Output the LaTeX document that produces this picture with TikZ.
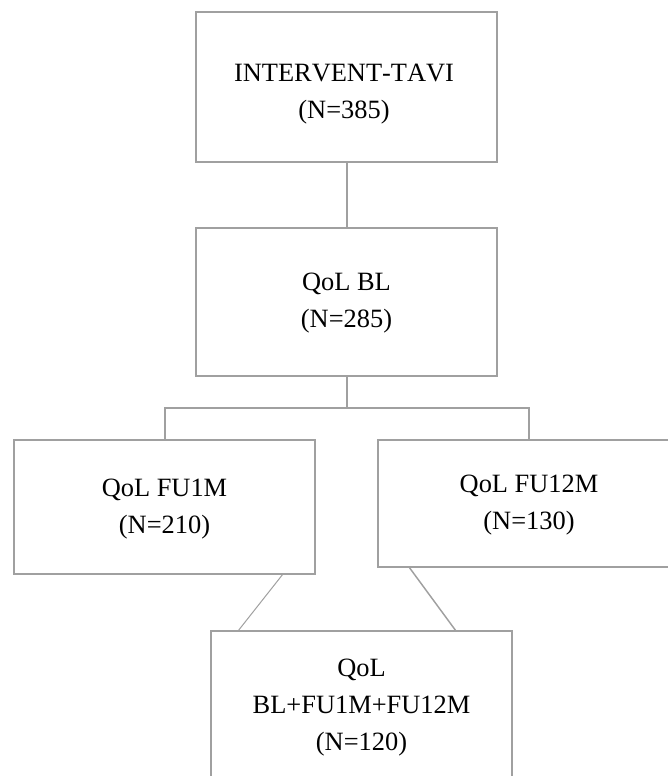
\documentclass[tikz,border=0pt]{standalone}
\usepackage{fontspec}
\setmainfont[Kerning=Off]{Liberation Serif}
\usetikzlibrary{positioning}
\definecolor{BoxGray}{HTML}{A0A0A0}

\begin{document}
\begin{tikzpicture}[x=0.75pt,y=-0.75pt,
      box/.style={draw=BoxGray,line width=1.5pt,minimum width=225.75pt,inner sep=0pt,outer sep=0pt},
      link/.style={BoxGray,line width=1.5pt},
      lbl/.style={align=center,anchor=north,inner sep=0pt,font=\fontsize{19.8pt}{27.75pt}\selectfont}]
    \clip (0,0) rectangle (668,776);
    % boxes
    \node[box,minimum height=112.5pt] (tavi)  at (346.5,87)  {};
    \node[box,minimum height=111pt]   (qolbl) at (346.5,302) {};
    \node[box,minimum height=100.5pt] (fu1m)  at (164.5,507) {};
    \node[box,minimum height=95.25pt,minimum width=226.5pt] (fu12m) at (529,503.5) {};
    \node[box,minimum height=112.5pt] (all)   at (361.5,706) {};
    % texts
    \node[lbl] (tavitxt)  at (344,64)    {INTERVENT-TAVI\\(N=385)};
    \node[lbl] (qolbltxt) at (346.5,273) {QoL BL\\(N=285)};
    \node[lbl] (fu1mtxt)  at (164.5,479) {QoL FU1M\\(N=210)};
    \node[lbl] (fu12mtxt) at (529,475)   {QoL FU12M\\(N=130)};
    \node[lbl] (alltxt)   at (361.5,659) {QoL\\BL+FU1M+FU12M\\(N=120)};
    % connectors
    \coordinate (split) at (346.5,408);
    \draw[link] (tavi) -- (qolbl);
    \draw[link] (qolbl.south) -- (split);
    \draw[link] (fu1m.north) |- (fu12m.north |- split) -- (fu12m.north);
    \draw[BoxGray,line width=0.75pt] ([xshift=-24pt]fu1m.south east) -- ([xshift=20.25pt]all.north west);
    \draw[BoxGray,line width=1.1pt] ([xshift=23.25pt]fu12m.south west) -- ([xshift=-42pt]all.north east);
  \end{tikzpicture}
\end{document}
